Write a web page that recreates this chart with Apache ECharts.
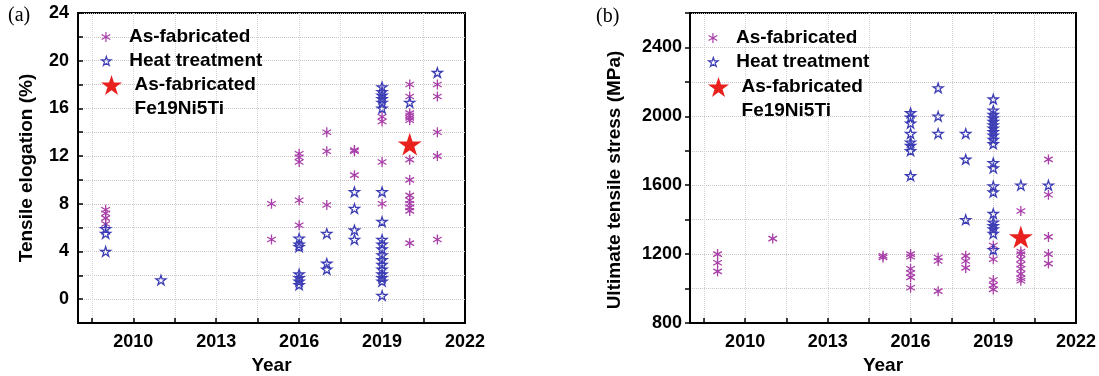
<!DOCTYPE html>
<html>
<head>
<meta charset="utf-8">
<script src="https://cdn.jsdelivr.net/npm/echarts@6/dist/echarts.min.js"></script>
<style>
  html, body { margin: 0; padding: 0; background: #fff; }
  #chart { width: 1099px; height: 376px; }
</style>
</head>
<body>
<div id="chart"></div>
<script>
// ---- data: [year, value] ----
const elongAsFab = [
  [2009, 7.5], [2009, 7.2], [2009, 6.8], [2009, 6.3],
  [2015, 8.0], [2015, 5.0],
  [2016, 12.2], [2016, 11.9], [2016, 11.5], [2016, 8.3], [2016, 6.2],
  [2017, 14.0], [2017, 12.4], [2017, 7.9],
  [2018, 12.5], [2018, 12.4], [2018, 10.4],
  [2019, 15.3], [2019, 14.9], [2019, 11.5], [2019, 8.0],
  [2020, 18.0], [2020, 17.0], [2020, 15.6], [2020, 15.4], [2020, 15.2], [2020, 15.0],
  [2020, 11.7], [2020, 10.0], [2020, 8.7], [2020, 8.3], [2020, 8.0], [2020, 7.7], [2020, 7.4], [2020, 4.7],
  [2021, 18.0], [2021, 17.0], [2021, 14.0], [2021, 12.0], [2021, 5.0]
];
const elongHeat = [
  [2009, 5.9], [2009, 5.5], [2009, 4.0],
  [2011, 1.6],
  [2016, 5.1], [2016, 4.6], [2016, 4.4], [2016, 2.1], [2016, 1.8], [2016, 1.5], [2016, 1.2],
  [2017, 5.5], [2017, 3.0], [2017, 2.5],
  [2018, 9.0], [2018, 7.6], [2018, 5.8], [2018, 5.0],
  [2019, 17.8], [2019, 17.4], [2019, 17.1], [2019, 16.8], [2019, 16.5], [2019, 16.0],
  [2019, 9.0], [2019, 6.5], [2019, 5.0], [2019, 4.6], [2019, 4.2], [2019, 3.7], [2019, 3.3],
  [2019, 2.9], [2019, 2.5], [2019, 2.1], [2019, 1.8], [2019, 1.5], [2019, 0.3],
  [2020, 16.5],
  [2021, 19.0]
];
const elongThisWork = [[2020, 13.0]];

const utsAsFab = [
  [2009, 1200], [2009, 1150], [2009, 1100],
  [2011, 1290],
  [2015, 1190], [2015, 1180],
  [2016, 1200], [2016, 1185], [2016, 1115], [2016, 1090], [2016, 1065], [2016, 1005],
  [2017, 1180], [2017, 1160], [2017, 985],
  [2018, 1190], [2018, 1160], [2018, 1120],
  [2019, 1250], [2019, 1170], [2019, 1050], [2019, 1020], [2019, 995],
  [2020, 1450], [2020, 1215], [2020, 1200], [2020, 1170], [2020, 1140], [2020, 1115],
  [2020, 1085], [2020, 1060], [2020, 1045],
  [2021, 1750], [2021, 1545], [2021, 1300], [2021, 1200], [2021, 1145]
];
const utsHeat = [
  [2016, 2020], [2016, 1995], [2016, 1960], [2016, 1900], [2016, 1850], [2016, 1830], [2016, 1800], [2016, 1655],
  [2017, 2165], [2017, 2000], [2017, 1900],
  [2018, 1900], [2018, 1750], [2018, 1400],
  [2019, 2100], [2019, 2035], [2019, 2010], [2019, 1990], [2019, 1970], [2019, 1950], [2019, 1930],
  [2019, 1910], [2019, 1890], [2019, 1865], [2019, 1840], [2019, 1730], [2019, 1700], [2019, 1595],
  [2019, 1560], [2019, 1435], [2019, 1385], [2019, 1365], [2019, 1345], [2019, 1320], [2019, 1225],
  [2020, 1600],
  [2021, 1600]
];
const utsThisWork = [[2020, 1300]];

const xTickValues = [2008.5, 2010, 2011.5, 2013, 2014.5, 2016, 2017.5, 2019, 2020.5];
const xLabelValues = [2010, 2013, 2016, 2019, 2022];

// ---- styles ----
const FONT = '"Liberation Sans", Arial, sans-serif';
const MAGENTA = '#a93fa9';
const BLUE = '#3d3db5';
const RED = '#e8211f';
const ASTERISK = 'path://M5,0L5,10M0.67,2.5L9.33,7.5M0.67,7.5L9.33,2.5';
const STAR = 'path://M50,0L61.2,34.5L97.6,34.5L68.2,55.9L79.4,90.5L50,69.1L20.6,90.5L31.8,55.9L2.4,34.5L38.8,34.5Z';

const boldText = { color: '#000', fontFamily: FONT, fontWeight: 'bold' };

function xAxisFor(gridIndex) {
  return {
    gridIndex: gridIndex,
    type: 'value',
    min: 2008,
    max: 2022,
    name: 'Year',
    nameLocation: 'middle',
    nameGap: 33,
    nameTextStyle: Object.assign({ fontSize: 19 }, boldText),
    axisLine: { show: true, onZero: false, lineStyle: { color: '#000', width: 2 } },
    axisTick: { show: true, inside: true, length: 5, customValues: xTickValues, lineStyle: { color: '#000', width: 1.5 } },
    axisLabel: Object.assign({ fontSize: 18, margin: 10, customValues: xLabelValues, formatter: v => String(v) }, boldText),
    splitLine: { show: true, lineStyle: { color: '#d2d2d2', type: 'dotted', width: 1 } }
  };
}

function scatter(name, data, idx, symbol, size, color, filled, z) {
  return {
    type: 'scatter',
    name: name,
    xAxisIndex: idx,
    yAxisIndex: idx,
    data: data,
    symbol: symbol,
    symbolSize: size,
    symbolKeepAspect: true,
    z: z,
    itemStyle: filled
      ? { color: color, opacity: 1 }
      : { color: symbol === ASTERISK ? color : 'rgba(0,0,0,0)', borderColor: color, borderWidth: 1.3, opacity: 1 },
    emphasis: { disabled: true }
  };
}

function legendRow(name, left, top, w, h, formatter) {
  return {
    data: [name],
    left: left,
    top: top,
    orient: 'vertical',
    padding: 0,
    itemWidth: w,
    itemHeight: h,
    selectedMode: false,
    itemStyle: { borderWidth: 1.2 },
    formatter: formatter || (n => n),
    textStyle: Object.assign({ fontSize: 19, lineHeight: 24 }, boldText)
  };
}

const chart = echarts.init(document.getElementById('chart'));

chart.setOption({
  animation: false,
  textStyle: { fontFamily: FONT },
  graphic: [
    { type: 'text', left: 8, top: 6, style: { text: '(a)', font: '20px "Liberation Serif", serif', fill: '#000' } },
    { type: 'text', left: 596, top: 7, style: { text: '(b)', font: '20px "Liberation Serif", serif', fill: '#000' } }
  ],
  legend: [
    legendRow('As-fabricated', 101, 25, 36, 10),
    legendRow('Heat treatment', 101, 49, 36, 9),
    legendRow('Fe19Ni5Ti', 101, 49, 36, 20, () => '\nAs-fabricated\nFe19Ni5Ti'),
    legendRow('As-fabricated', 708, 26, 36, 10),
    legendRow('Heat treatment', 708, 50, 36, 9),
    legendRow('Fe19Ni5Ti', 708, 51, 36, 20, () => '\nAs-fabricated\nFe19Ni5Ti')
  ],
  grid: [
    { left: 78, top: 13, width: 387, height: 310, show: true, borderColor: '#000', borderWidth: 2, outerBoundsMode: 'none' },
    { left: 690, top: 13, width: 386, height: 310, show: true, borderColor: '#000', borderWidth: 2, outerBoundsMode: 'none' }
  ],
  xAxis: [xAxisFor(0), xAxisFor(1)],
  yAxis: [
    {
      gridIndex: 0,
      type: 'value',
      min: -2,
      max: 24,
      interval: 2,
      name: 'Tensile elogation (%)',
      nameLocation: 'middle',
      nameGap: 42,
      nameTextStyle: Object.assign({ fontSize: 19 }, boldText),
      axisLine: { show: true, onZero: false, lineStyle: { color: '#000', width: 2 } },
      axisTick: { show: true, inside: true, length: 5, lineStyle: { color: '#000', width: 1.5 } },
      axisLabel: Object.assign({ fontSize: 18, margin: 9, formatter: v => (v >= 0 && v % 4 === 0 ? String(v) : '') }, boldText),
      splitLine: { show: true, lineStyle: { color: '#cfc2c2', type: 'dotted', width: 1 } }
    },
    {
      gridIndex: 1,
      type: 'value',
      min: 800,
      max: 2600,
      interval: 200,
      name: 'Ultimate tensile stress (MPa)',
      nameLocation: 'middle',
      nameGap: 66,
      nameTextStyle: Object.assign({ fontSize: 19, padding: [0, 24, 0, 0] }, boldText),
      axisLine: { show: true, onZero: false, lineStyle: { color: '#000', width: 2 } },
      axisTick: { show: true, inside: false, length: 5, lineStyle: { color: '#000', width: 1.5 } },
      axisLabel: Object.assign({ fontSize: 18, margin: 8, formatter: v => (v % 400 === 0 ? String(v) : '') }, boldText),
      splitLine: { show: true, lineStyle: { color: '#cfc2c2', type: 'dotted', width: 1 } }
    }
  ],
  series: [
    scatter('As-fabricated', elongAsFab, 0, ASTERISK, 10, MAGENTA, false, 2),
    scatter('Heat treatment', elongHeat, 0, STAR, 10, BLUE, false, 3),
    scatter('Fe19Ni5Ti', elongThisWork, 0, STAR, 24, RED, true, 4),
    scatter('As-fabricated', utsAsFab, 1, ASTERISK, 10, MAGENTA, false, 2),
    scatter('Heat treatment', utsHeat, 1, STAR, 10, BLUE, false, 3),
    scatter('Fe19Ni5Ti', utsThisWork, 1, STAR, 24, RED, true, 4)
  ]
});
</script>
</body>
</html>
